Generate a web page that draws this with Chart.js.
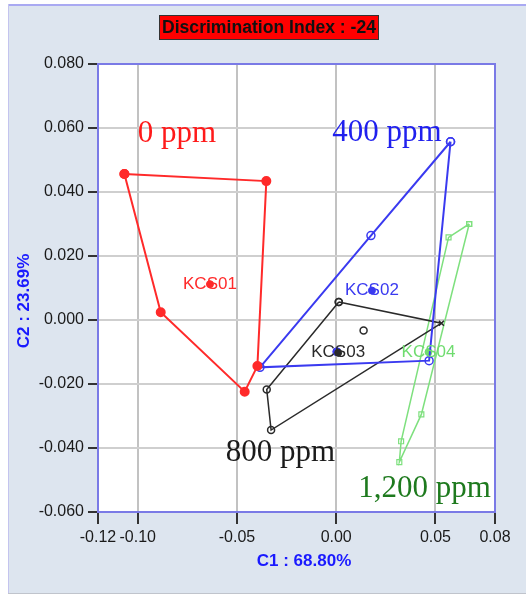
<!DOCTYPE html>
<html>
<head>
<meta charset="utf-8">
<script src="https://cdn.jsdelivr.net/npm/chart.js@4.4.1/dist/chart.umd.min.js"></script>
<style>
  body { margin: 0; background: #fff; }
  canvas { display: block; }
</style>
</head>
<body>
<canvas id="pcaChart" width="526" height="596"></canvas>
<script>
// groups and their dose labels
var groups = ["KCS01", "KCS02", "KCS03", "KCS04"];
var doses = ["0 ppm", "400 ppm", "800 ppm", "1,200 ppm"];

// hull points of each group (in drawing order)
var kcs01X = [-0.1067, -0.0352, -0.0397, -0.0461, -0.0884];
var kcs01Y = [0.0456, 0.0434, -0.0144, -0.0224, 0.0024];
var kcs02X = [0.0576, 0.0468, -0.0384, 0.0175];
var kcs02Y = [0.0557, -0.0127, -0.0148, 0.0264];
var kcs03X = [0.0013, 0.0530, -0.0328, -0.0350];
var kcs03Y = [0.0056, -0.0010, -0.0344, -0.0217];
var kcs04X = [0.0670, 0.0566, 0.0327, 0.0318, 0.0429];
var kcs04Y = [0.0300, 0.0258, -0.0379, -0.0444, -0.0295];

// points inside the hulls
var kcs02InX = [0.0003];
var kcs02InY = [-0.0099];
var kcs03InX = [0.0138];
var kcs03InY = [-0.0033];

// group centroids
var centX = [-0.0636, 0.0180, 0.0010, 0.0465];
var centY = [0.0112, 0.0092, -0.0102, -0.0100];

// axis ticks
var xTicks = [-0.12, -0.10, -0.05, 0.00, 0.05, 0.08];
var yTicks = [-0.06, -0.04, -0.02, 0.00, 0.02, 0.04, 0.06, 0.08];

var lineColors = ["#ff2a2a", "#3a3af0", "#2a2a2a", "#7ee07e"];
var textColors = ["#ff1a1a", "#2020ee", "#1a1a1a", "#1e7a1e"];
var labelColors = ["#ff2a2a", "#3a3af0", "#2a2a2a", "#6fdc6f"];
// where the dose texts sit (data coords of left/baseline)
var doseAt = [[-0.100, 0.0555], [-0.002, 0.0560], [-0.0556, -0.0440], [0.0111, -0.0553]];

function closed(xs, ys) {
  var pts = xs.map(function (x, i) { return { x: x, y: ys[i] }; });
  pts.push({ x: xs[0], y: ys[0] });
  return pts;
}
function pts(xs, ys) {
  return xs.map(function (x, i) { return { x: x, y: ys[i] }; });
}

var datasets = [
  {
    data: closed(kcs01X, kcs01Y), showLine: true, borderColor: lineColors[0], borderWidth: 2,
    pointRadius: 4, pointBackgroundColor: lineColors[0], pointBorderColor: lineColors[0]
  },
  {
    data: closed(kcs02X, kcs02Y), showLine: true, borderColor: lineColors[1], borderWidth: 2,
    pointRadius: 4, pointBorderWidth: 1.5, pointBackgroundColor: "rgba(0,0,0,0)", pointBorderColor: lineColors[1]
  },
  {
    data: closed(kcs03X, kcs03Y), showLine: true, borderColor: lineColors[2], borderWidth: 1.5,
    pointRadius: 3.5, pointBorderWidth: 1.5, pointBackgroundColor: "rgba(0,0,0,0)", pointBorderColor: lineColors[2],
    pointStyle: ["circle", "crossRot", "circle", "circle", "circle"]
  },
  {
    data: closed(kcs04X, kcs04Y), showLine: true, borderColor: lineColors[3], borderWidth: 1.5,
    pointRadius: 3.5, pointBorderWidth: 1.2, pointBackgroundColor: "rgba(0,0,0,0)", pointBorderColor: lineColors[3],
    pointStyle: "rect"
  },
  {
    data: pts(kcs03InX, kcs03InY), showLine: false,
    pointRadius: 3.5, pointBorderWidth: 1.5, pointBackgroundColor: "rgba(0,0,0,0)", pointBorderColor: lineColors[2]
  },
  {
    data: pts(centX, centY), showLine: false,
    pointRadius: 3.5, pointBackgroundColor: labelColors, pointBorderColor: labelColors
  },
  {
    data: pts(kcs02InX, kcs02InY), showLine: false,
    pointRadius: 4, pointBackgroundColor: lineColors[1], pointBorderColor: lineColors[1]
  }
];

var backdrop = {
  id: "backdrop",
  beforeDraw: function (chart) {
    var ctx = chart.ctx, a = chart.chartArea;
    ctx.save();
    ctx.fillStyle = "#ffffff";
    ctx.fillRect(0, 0, chart.width, chart.height);
    ctx.fillStyle = "#dde5ef";
    ctx.fillRect(8, 5, chart.width - 8, chart.height - 7);
    ctx.fillStyle = "#a9a9f2";
    ctx.fillRect(8, 4, chart.width - 8, 2);
    ctx.fillStyle = "#c4c4ee";
    ctx.fillRect(8, 4, 1, chart.height - 6);
    ctx.fillStyle = "#c0c4cc";
    ctx.fillRect(8, chart.height - 3, chart.width - 8, 1);
    ctx.fillStyle = "#ffffff";
    ctx.fillRect(a.left, a.top, a.right - a.left, a.bottom - a.top);

    // title box
    ctx.fillStyle = "#ff0000";
    ctx.fillRect(159, 15, 220, 25);
    ctx.strokeStyle = "#333";
    ctx.lineWidth = 1;
    ctx.strokeRect(159.5, 15.5, 219, 24);
    ctx.fillStyle = "#111";
    ctx.font = "bold 18px 'Liberation Sans', Arial, sans-serif";
    ctx.textAlign = "center";
    ctx.textBaseline = "middle";
    var t = "Discrimination Index : -24";
    var w = ctx.measureText(t).width;
    ctx.translate(269, 28.5);
    if (w > 214) ctx.scale(214 / w, 1);
    ctx.fillText(t, 0, 0);
    ctx.restore();

    // axis titles
    ctx.save();
    ctx.fillStyle = "#1a1aff";
    ctx.font = "bold 17px 'Liberation Sans', Arial, sans-serif";
    ctx.textAlign = "center";
    ctx.textBaseline = "middle";
    ctx.fillText("C1 : 68.80%", 304, 561);
    ctx.translate(24, 301);
    ctx.rotate(-Math.PI / 2);
    ctx.fillText("C2 : 23.69%", 0, 0);
    ctx.restore();
  },
  beforeDatasetsDraw: function (chart) {
    var ctx = chart.ctx, a = chart.chartArea;
    ctx.save();
    ctx.strokeStyle = "#7a7ae6";
    ctx.lineWidth = 2;
    ctx.strokeRect(a.left, a.top, a.right - a.left, a.bottom - a.top);
    ctx.restore();
  },
  afterDatasetsDraw: function (chart) {
    var ctx = chart.ctx, xs = chart.scales.x, ys = chart.scales.y;
    ctx.save();
    ctx.textBaseline = "middle";
    ctx.textAlign = "center";
    ctx.font = "17px 'Liberation Sans', Arial, sans-serif";
    groups.forEach(function (g, i) {
      ctx.fillStyle = labelColors[i];
      ctx.fillText(g, xs.getPixelForValue(centX[i]), ys.getPixelForValue(centY[i]));
    });
    ctx.textAlign = "left";
    ctx.textBaseline = "alphabetic";
    ctx.font = "31px 'Liberation Serif', 'DejaVu Serif', serif";
    doses.forEach(function (d, i) {
      ctx.fillStyle = textColors[i];
      ctx.fillText(d, xs.getPixelForValue(doseAt[i][0]), ys.getPixelForValue(doseAt[i][1]));
    });
    ctx.restore();
  }
};

var tickFont = { family: "'Liberation Sans', Arial, sans-serif", size: 16 };

new Chart(document.getElementById("pcaChart"), {
  type: "scatter",
  data: { datasets: datasets },
  options: {
    responsive: false,
    animation: false,
    layout: { padding: { top: 64, left: 0, right: 31, bottom: 0 } },
    plugins: { legend: { display: false }, tooltip: { enabled: false } },
    elements: { line: { tension: 0 } },
    scales: {
      x: {
        type: "linear", min: -0.12, max: 0.08,
        afterFit: function (s) { s.height = 84; },
        afterBuildTicks: function (s) { s.ticks = xTicks.map(function (v) { return { value: v }; }); },
        border: { display: false },
        grid: { color: "#c2c2c2", lineWidth: 2, tickLength: 12, tickColor: "#333", tickWidth: 2 },
        ticks: {
          autoSkip: false, maxRotation: 0, padding: 4, color: "#1a1a1a", font: tickFont,
          callback: function (v) { return Number(v).toFixed(2); }
        }
      },
      y: {
        type: "linear", min: -0.06, max: 0.08,
        afterFit: function (s) { s.width = 98; },
        afterBuildTicks: function (s) { s.ticks = yTicks.map(function (v) { return { value: v }; }); },
        border: { display: false },
        grid: { color: "#cfcfcf", lineWidth: 2, tickLength: 10, tickColor: "#333", tickWidth: 2 },
        ticks: {
          autoSkip: false, padding: 4, color: "#1a1a1a", font: tickFont,
          callback: function (v) { return Number(v).toFixed(3); }
        }
      }
    }
  },
  plugins: [backdrop]
});
</script>
</body>
</html>
